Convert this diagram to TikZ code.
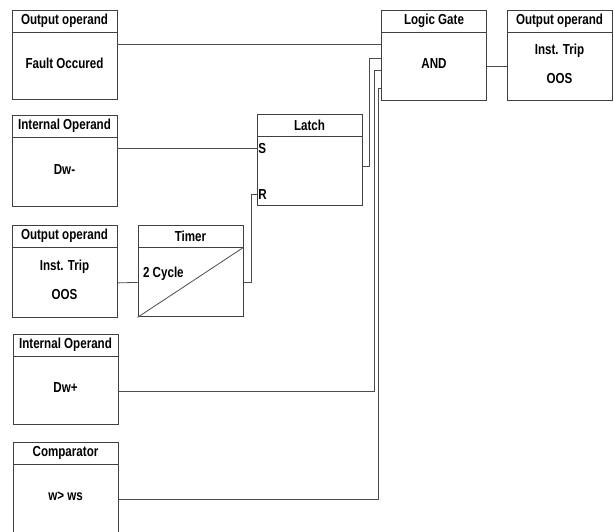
\documentclass[tikz,border=0pt]{standalone}
\usepackage{fontspec}
\setmainfont{Liberation Sans}[FakeStretch=0.8]
\usetikzlibrary{positioning,calc}

\begin{document}
\begin{tikzpicture}[
    x=1pt, y=-1pt,
    every node/.style={font=\fontsize{14.5}{16}\selectfont\bfseries},
    head/.style={rectangle, draw=black!75, line width=0.9pt, minimum width=105pt, minimum height=22pt, inner sep=0pt},
    body/.style={rectangle, draw=black!75, line width=0.9pt, minimum width=105pt, minimum height=#1, inner sep=0pt, text depth=6pt, align=center},
    wire/.style={draw=black!70, line width=0.8pt},
    pin/.style={anchor=west, inner sep=1.5pt}
]
    \useasboundingbox (0,0) rectangle (614,532);

    % Left column
    \node[head] (faulth) at (64.5,21) {Output operand};
    \node[body=67pt, below=0pt of faulth] (faultb) {Fault Occured};
    \node[head] (dwmh) at (64.5,126) {Internal Operand};
    \node[body=69pt, below=0pt of dwmh] (dwmb) {Dw-};
    \node[head] (oosh) at (64.5,236) {Output operand};
    \node[body=70pt, below=0pt of oosh] (oosb) {Inst. Trip\\[13pt]OOS};
    \node[head] (dwph) at (65.5,345) {Internal Operand};
    \node[body=68pt, below=0pt of dwph] (dwpb) {Dw+};
    \node[head] (comph) at (65.5,453) {Comparator};
    \node[body=68pt, below=0pt of comph] (compb) {w> ws};

    % Timer
    \node[head] (timerh) at (190.5,236) {Timer};
    \node[body=69pt, below=0pt of timerh] (timerb) {};
    \draw[wire] (timerb.south west) -- (timerb.north east);
    \node[anchor=west] (cycle) at ($(timerb.west)+(2,-9)$) {2 Cycle};

    % Latch
    \node[head] (latchh) at (309.5,125) {Latch};
    \node[body=69pt, below=0pt of latchh] (latchb) {};
    \node[pin] (set) at ($(latchb.north west)+(0,12)$) {S};
    \node[pin] (reset) at ($(latchb.north west)+(0,58)$) {R};

    % Logic gate and output
    \node[head] (gateh) at (434,21) {Logic Gate};
    \node[body=68pt, below=0pt of gateh] (gateb) {AND};
    \node[head] (triph) at (559.5,21) {Output operand};
    \node[body=68pt, below=0pt of triph] (tripb) {Inst. Trip\\[13pt]OOS};

    % Gate inputs
    \coordinate (g1) at ($(gateb.north west)+(0,12)$);
    \coordinate (g2) at ($(gateb.north west)+(0,26)$);
    \coordinate (g3) at ($(gateb.north west)+(0,38)$);
    \coordinate (g4) at ($(gateb.north west)+(0,56)$);
    \coordinate (lq) at ($(latchb.east)+(0,-5)$);

    % Wires
    \draw[wire] (faultb.east |- g1) -- (g1);
    \draw[wire] (dwmb.east |- set.west) -- (set.west);
    \draw[wire] (lq) -- ++(7,0) |- (g2);
    \draw[wire] (oosb.east) -- (timerb.west);
    \draw[wire] (timerb.east) -- ++(8,0) |- (reset.west);
    \draw[wire] (dwpb.east) -| ([xshift=-7pt]g3) -- (g3);
    \draw[wire] (compb.east) -| ([xshift=-3pt]g4) -- (g4);
    \draw[wire] (gateb.east) -- (tripb.west);

\end{tikzpicture}
\end{document}
